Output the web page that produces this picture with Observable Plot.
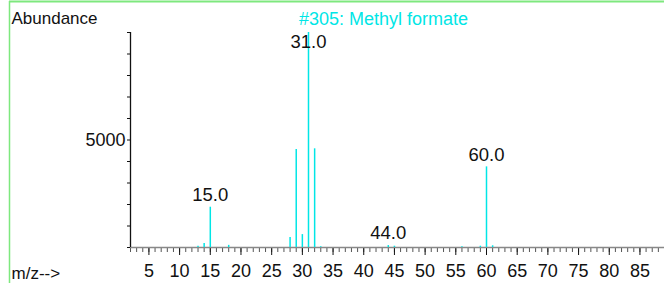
<!DOCTYPE html>
<html>
<head>
<meta charset="utf-8">
<script src="https://cdn.jsdelivr.net/npm/d3@7"></script>
<script src="https://cdn.jsdelivr.net/npm/@observablehq/plot@0.6"></script>
<style>
  html, body { margin: 0; padding: 0; background: white; }
</style>
</head>
<body>
<div id="chart"></div>
<script>
// Data
const mz =        [13, 14,  15,   18,  28,  29,   30,  31,    32,   33, 44, 45, 56, 59, 60,   61];
const abundance = [60, 186, 1874, 100, 470, 4560, 600, 10000, 4590, 40, 90, 60, 40, 60, 3750, 80];
const labelMz = [15, 31, 44, 60];
const xMajorTicks = [5, 10, 15, 20, 25, 30, 35, 40, 45, 50, 55, 60, 65, 70, 75, 80, 85];
const xMinorTicks = d3.range(2, 89);
const yTicks = [0, 1000, 2000, 3000, 4000, 5000, 6000, 7000, 8000, 9000, 10000];
const yLabeled = [5000];
const title = "#305: Methyl formate";
const yTitle = "Abundance";
const xTitle = "m/z-->";

const peaks = mz.map((m, i) => ({mz: m, ab: abundance[i]}));
const abOf = m => abundance[mz.indexOf(m)];
const cyan = "#00e6e6";

const plot = Plot.plot({
  width: 664,
  height: 283,
  marginLeft: 130,
  marginRight: 0,
  marginTop: 32,
  marginBottom: 36,
  x: {domain: [2, 89], axis: null, label: null},
  y: {domain: [0, 10000], axis: null, label: null},
  style: {fontFamily: "'Liberation Sans', Arial, sans-serif", background: "white", color: "black"},
  marks: [
    Plot.axisX({ticks: xMinorTicks, tickSize: 5, tickFormat: () => "", stroke: "#555", label: null}),
    Plot.axisX({ticks: xMajorTicks, tickSize: 8, tickPadding: 9, fontSize: 18, stroke: "#111", fill: "#111", label: null}),
    Plot.axisY({ticks: yTicks, tickSize: 3, tickPadding: 2, fontSize: 18, label: null,
      tickFormat: d => yLabeled.includes(d) ? String(d) : "", stroke: "#111", fill: "#111"}),
    Plot.ruleY([0], {stroke: "#888", strokeWidth: 1.5}),
    Plot.ruleX([2], {y1: 0, y2: 10000, stroke: "#111", strokeWidth: 1.3}),
    Plot.ruleX(peaks, {x: "mz", y1: 0, y2: "ab", stroke: cyan, strokeWidth: 1.5}),
    Plot.text(labelMz, {x: d => d, y: d => Math.min(abOf(d), 8980), text: d => d.toFixed(1),
      dy: -12, fontSize: 18.5, fill: "#111"}),
    Plot.text([title], {frameAnchor: "top", lineAnchor: "middle", dx: -14, dy: -13, fill: cyan, fontSize: 18}),
    Plot.text([yTitle], {frameAnchor: "top-left", lineAnchor: "middle", textAnchor: "start", dx: -119, dy: -14, fontSize: 17, fill: "#111"}),
    Plot.text([xTitle], {frameAnchor: "bottom-left", lineAnchor: "middle", textAnchor: "start", dx: -119, dy: 26, fontSize: 17, fill: "#111"})
  ]
});

const svg = d3.select(plot);
svg.append("line").attr("x1", 9).attr("y1", 1.5).attr("x2", 664).attr("y2", 1.5)
  .attr("stroke", "#7ee87e").attr("stroke-width", 2);
svg.append("line").attr("x1", 9.5).attr("y1", 1).attr("x2", 9.5).attr("y2", 283)
  .attr("stroke", "#7ee87e").attr("stroke-width", 1.5);

document.getElementById("chart").appendChild(plot);
</script>
</body>
</html>
